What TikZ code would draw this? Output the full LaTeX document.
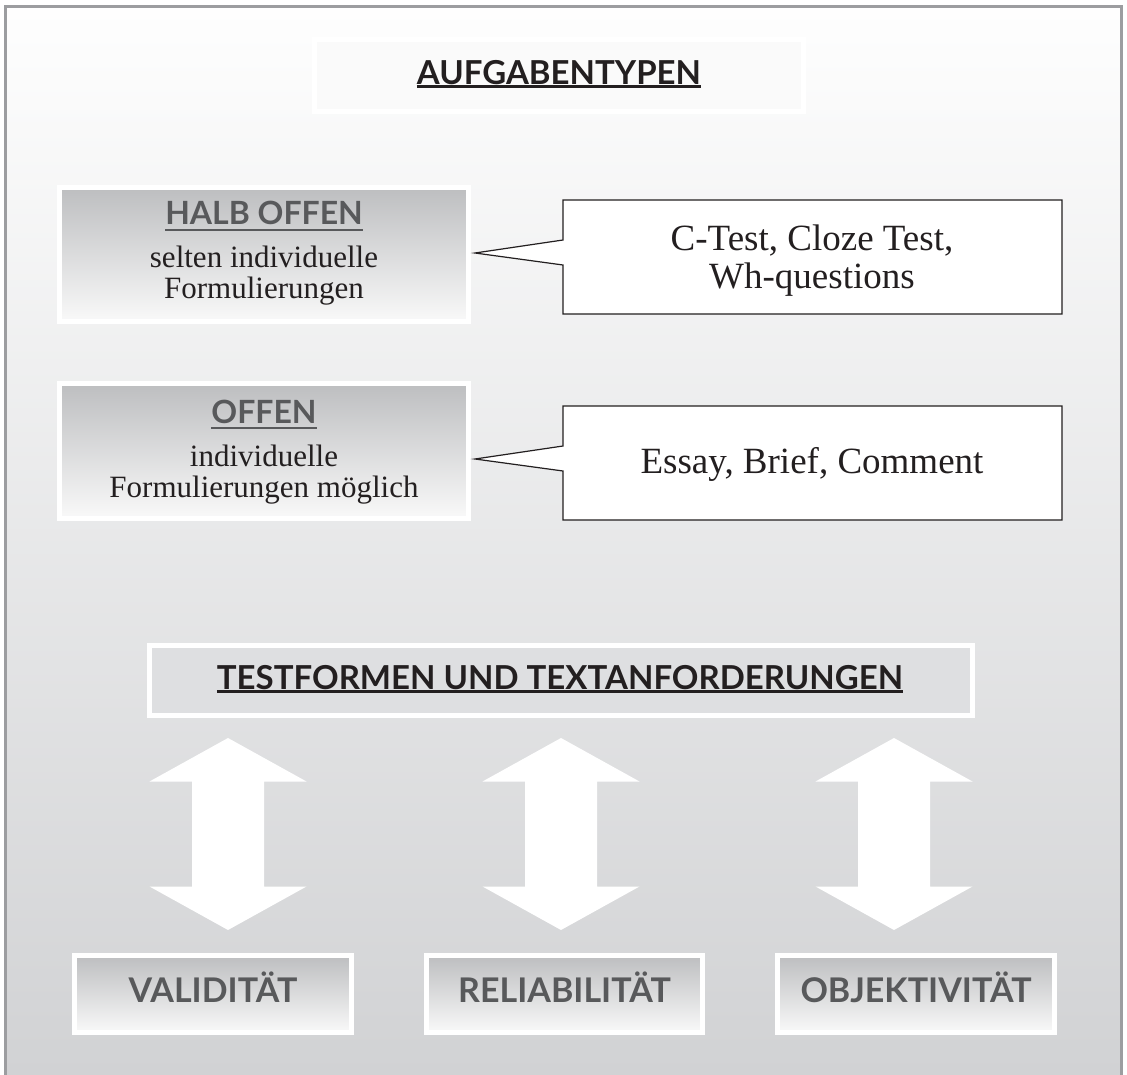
\documentclass[tikz,border=0pt]{standalone}
\usepackage{fontspec}
\setmainfont{Liberation Serif}
\newfontfamily\headfont{Lato}
\usetikzlibrary{calc}

\definecolor{framegray}{HTML}{9C9DA0}
\definecolor{bgtop}{HTML}{FEFEFE}
\definecolor{bgbot}{HTML}{D1D2D4}
\definecolor{boxtop}{HTML}{BDBEC0}
\definecolor{boxbot}{HTML}{F9F9F9}
\definecolor{headgray}{HTML}{58595B}
\definecolor{ink}{HTML}{231F20}
\definecolor{bandfill}{HTML}{DEDFE1}
\definecolor{titlefill}{HTML}{FAFAFA}

% underlined text: #1 depth below baseline, #2 rule thickness, #3 text
\newcommand\ulbox[3]{\setbox0\hbox{#3}\rlap{\rule[-#1]{\wd0}{#2}}\box0}

\begin{document}
\begin{tikzpicture}[x=1pt,y=-1pt,
  whiteframe/.style={draw=white, line width=5pt, inner sep=0pt, outer sep=0pt},
  gradbox/.style={whiteframe, top color=boxtop, bottom color=boxbot},
  txt/.style={anchor=base, inner sep=0pt},
  titletxt/.style={txt, text=ink, font=\headfont\bfseries\fontsize{33}{33}\selectfont},
  boxhead/.style={txt, text=headgray, font=\headfont\bfseries\fontsize{32}{32}\selectfont},
  serif/.style={txt, text=ink, font=\fontsize{31}{31}\selectfont},
  calltxt/.style={txt, text=ink, font=\fontsize{37}{37}\selectfont},
  quality/.style={txt, text=headgray, font=\headfont\bfseries\fontsize{34}{34}\selectfont},
  callrect/.style={minimum width=499pt, minimum height=114pt, inner sep=0pt, outer sep=0pt},
  callout/.style={draw=ink, line width=1.2pt, fill=white, line join=miter},
  dblarrow/.pic={\fill[white] (0,-96) -- (78.5,-52.5) -- (36,-52.5) -- (36,52.5)
      -- (78.5,52.5) -- (0,96) -- (-78.5,52.5) -- (-36,52.5) -- (-36,-52.5)
      -- (-78.5,-52.5) -- cycle;}
]
\useasboundingbox (0,0) rectangle (1127,1075);

% page background and outer frame
\begin{scope}
  \clip (0,0) rectangle (1127,1075);
  \shade[top color=bgtop, bottom color=bgbot] (5,7) rectangle (1122,1075);
  \draw[framegray, line width=3pt] (5,1095) -- (5,7) -- (1121.5,7) -- (1121.5,1095);
\end{scope}

% heading
\node[whiteframe, fill=titlefill, minimum width=489pt, minimum height=72pt] (titlebox) at (559,75.5) {};
\node[titletxt] (title) at (559,85) {\ulbox{3.5pt}{3pt}{AUFGABENTYPEN}};

% half-open tasks
\node[gradbox, minimum width=409pt, minimum height=134pt] (halb) at (264,254.5) {};
\node[boxhead] (halbhead) at (264,225) {\ulbox{6pt}{2.2pt}{HALB OFFEN}};
\node[serif] (halbl1) at (264,268) {selten individuelle};
\node[serif] (halbl2) at (264,299) {Formulierungen};

% open tasks
\node[gradbox, minimum width=409pt, minimum height=135pt] (offen) at (264,451) {};
\node[boxhead] (offenhead) at (264,423) {\ulbox{6pt}{2.2pt}{OFFEN}};
\node[serif] (offenl1) at (264,466) {individuelle};
\node[serif] (offenl2) at (264,497) {Formulierungen möglich};

% callout with examples of half-open tasks
\node[callrect] (cb1) at (812.5,257) {};
\coordinate (tip1) at (475,253);
\draw[callout] (cb1.north west) -- (cb1.north east) -- (cb1.south east) -- (cb1.south west)
  -- ($(cb1.west)+(0,8)$) -- (tip1) -- ($(cb1.west)+(0,-17)$) -- cycle;
\node[calltxt] (cb1l1) at (812,251) {C-Test, Cloze Test,};
\node[calltxt] (cb1l2) at (812,289) {Wh-questions};

% callout with examples of open tasks
\node[callrect] (cb2) at (812.5,463) {};
\coordinate (tip2) at (475,459);
\draw[callout] (cb2.north west) -- (cb2.north east) -- (cb2.south east) -- (cb2.south west)
  -- ($(cb2.west)+(0,8)$) -- (tip2) -- ($(cb2.west)+(0,-17)$) -- cycle;
\node[calltxt] (cb2l1) at (812,473) {Essay, Brief, Comment};

% test forms band
\node[whiteframe, fill=bandfill, minimum width=823pt, minimum height=70pt] (band) at (561,680.5) {};
\node[titletxt] (bandtxt) at (560,689) {\ulbox{3.5pt}{3pt}{TESTFORMEN UND TEXTANFORDERUNGEN}};

% two-way arrows
\pic (arrA) at (228,834) {dblarrow};
\pic (arrB) at (561,834) {dblarrow};
\pic (arrC) at (894,834) {dblarrow};

% quality criteria
\node[gradbox, minimum width=277pt, minimum height=77pt] (valid) at (213,994) {};
\node[quality] (validtxt) at (213,1002) {VALIDITÄT};
\node[gradbox, minimum width=276pt, minimum height=77pt] (reli) at (564.5,994) {};
\node[quality] (relitxt) at (564.5,1002) {RELIABILITÄT};
\node[gradbox, minimum width=277pt, minimum height=77pt] (obj) at (916,994) {};
\node[quality] (objtxt) at (916,1002) {OBJEKTIVITÄT};
\end{tikzpicture}
\end{document}
